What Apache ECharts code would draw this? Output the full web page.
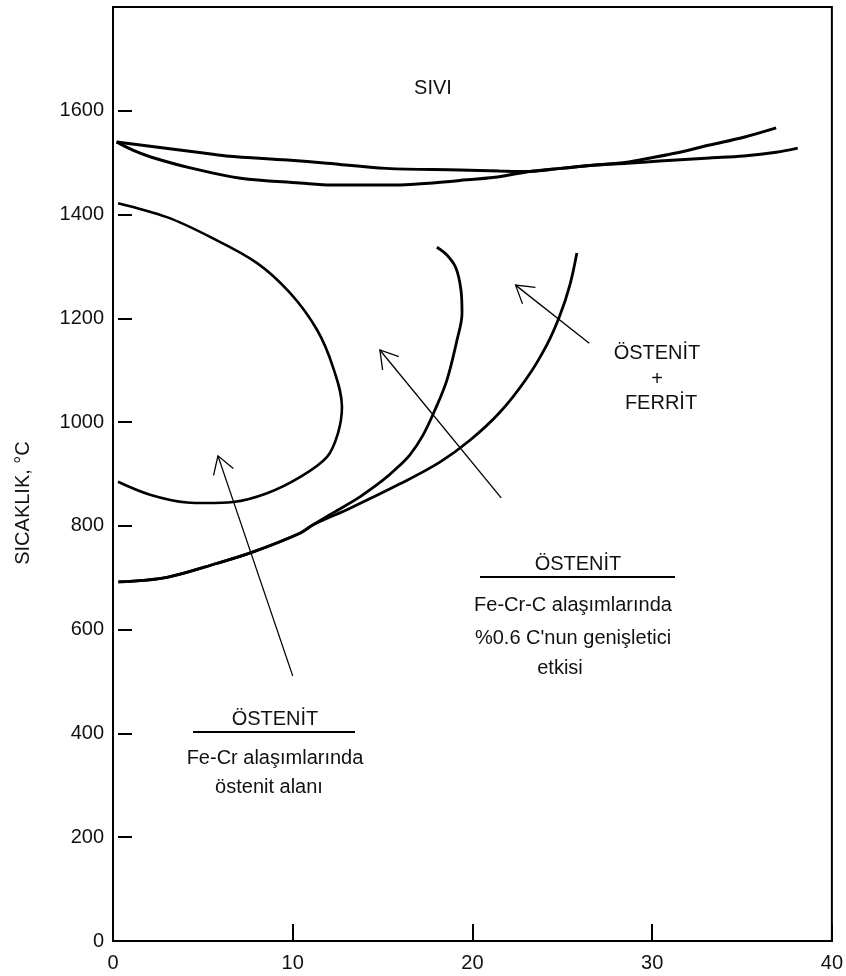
<!DOCTYPE html>
<html><head><meta charset="utf-8">
<script src="https://cdn.jsdelivr.net/npm/echarts/dist/echarts.min.js"></script>
<style>html,body{margin:0;padding:0;background:#fff}#c{width:846px;height:976px}</style>
</head><body><div id="c"></div>
<script>
// ---- data (x = % Cr, y = °C) ----
const xTickValues = [0, 10, 20, 30, 40];
const yTickLabels = ['0', '200', '400', '600', '800', '1000', '1200', '1400', '1600', ''];

// upper boundary lines (near the liquid region)
const upperLineA = [[0.2,1540],[4.7,1520],[6.3,1513],[9.7,1505],[11.9,1499],[15.2,1489],[19.3,1486],[21.5,1484],[23.0,1483],[24.9,1489],[26.7,1495],[28.6,1499],[30.4,1503],[33.2,1509],[35.1,1513],[36.9,1520],[38.1,1528]];
const upperLineB = [[0.2,1540],[1.1,1524],[2.1,1511],[4.3,1490],[7.1,1470],[10.4,1461],[12.2,1457],[16.0,1457],[17.8,1461],[19.7,1467],[21.5,1473],[23.0,1482],[24.9,1489],[26.7,1495],[28.6,1501],[29.9,1509],[31.4,1519],[33.2,1534],[35.1,1549],[36.9,1567]];

// Fe-Cr gamma loop
const loopFeCr = [[0.28,1422],[3.0,1395],[5.4,1357],[8.0,1307],[9.85,1249],[11.35,1178],[12.24,1106],[12.74,1029],[12.52,979],[11.91,933],[10.4,894],[8.57,863],[6.68,846],[5.2,844],[4.12,845],[2.06,860],[0.28,885]];

// Fe-Cr-C (0.6 % C) boundaries
const loopFeCrC_inner = [[0.3,692],[3.0,701],[5.8,728],[7.8,750],[10.4,786],[11.13,802],[12.24,825],[13.74,856],[15.02,888],[15.69,908],[16.52,937],[17.25,975],[17.91,1023],[18.58,1081],[19.14,1158],[19.42,1210],[19.36,1255],[19.08,1297],[18.58,1322],[18.02,1337]];
const loopFeCrC_outer = [[0.3,692],[3.0,701],[5.8,728],[7.8,750],[10.4,786],[11.13,802],[13.19,834],[15.97,881],[18.19,923],[19.86,965],[21.53,1019],[23.03,1085],[24.14,1149],[24.87,1206],[25.42,1264],[25.81,1326]];

// annotation arrows: tail -> head
const arrowTails = [[10.0,511],[21.6,854],[26.5,1152]];
const arrowHeads = [[5.84,935],[14.85,1139],[22.4,1264]];

// ---- chart ----
const FONT = "'Liberation Sans', Arial, sans-serif";
const chart = echarts.init(document.getElementById('c'), null, {renderer: 'canvas'});

const curveSeries = (data, w) => ({
  type: 'line', data: data, symbol: 'none', smooth: 0.35,
  lineStyle: {color: '#000', width: w}, silent: true, z: 3
});

const arrowData = arrowTails.map((t, i) => [t[0], t[1], arrowHeads[i][0], arrowHeads[i][1]]);

function txt(x, y, s) {
  return {type: 'text', x: x, y: y, z: 10,
    style: {text: s, font: '20px ' + FONT, fill: '#111', align: 'center', verticalAlign: 'middle'}};
}
function hline(x1, x2, y) {
  return {type: 'line', z: 10, shape: {x1: x1, y1: y, x2: x2, y2: y}, style: {stroke: '#000', lineWidth: 2}};
}

const option = {
  animation: false,
  backgroundColor: '#fff',
  grid: {left: 113, right: 14, top: 7, bottom: 35, show: true, borderColor: '#000', borderWidth: 2},
  xAxis: {
    type: 'value', min: 0, max: 40, interval: 10,
    axisLine: {show: true, lineStyle: {color: '#000', width: 2}},
    axisTick: {show: true, inside: true, length: 17, lineStyle: {color: '#000', width: 2}},
    axisLabel: {color: '#111', fontFamily: FONT, fontSize: 20, margin: 12,
      formatter: v => xTickValues.indexOf(v) >= 0 ? String(v) : ''},
    splitLine: {show: false}
  },
  yAxis: [{
    type: 'value', min: 0, max: 1800, interval: 200,
    axisLine: {show: true, lineStyle: {color: '#000', width: 2}},
    axisTick: {show: false},
    axisLabel: {color: '#111', fontFamily: FONT, fontSize: 20, margin: 9,
      formatter: (v) => yTickLabels[Math.round(v / 200)]},
    splitLine: {show: false}
  }, {
    type: 'value', min: 0, max: 1800, interval: 200, position: 'left', offset: -5,
    axisLine: {show: false},
    axisTick: {show: true, inside: true, length: 14, lineStyle: {color: '#000', width: 2}},
    axisLabel: {show: false},
    splitLine: {show: false}
  }],
  series: [
    curveSeries(upperLineA, 3),
    curveSeries(upperLineB, 3),
    curveSeries(loopFeCr, 2.6),
    curveSeries(loopFeCrC_inner, 2.8),
    curveSeries(loopFeCrC_outer, 2.8),
    {
      type: 'custom', data: arrowData, encode: {x: [0, 2], y: [1, 3]}, z: 4, silent: true,
      renderItem: function (params, api) {
        const p1 = api.coord([api.value(0), api.value(1)]);
        const p2 = api.coord([api.value(2), api.value(3)]);
        const ang = Math.atan2(p2[1] - p1[1], p2[0] - p1[0]);
        const L = 20, a = 0.55;
        const h1 = [p2[0] - L * Math.cos(ang - a), p2[1] - L * Math.sin(ang - a)];
        const h2 = [p2[0] - L * Math.cos(ang + a), p2[1] - L * Math.sin(ang + a)];
        return {type: 'group', children: [
          {type: 'line', shape: {x1: p1[0], y1: p1[1], x2: p2[0], y2: p2[1]}, style: {stroke: '#000', lineWidth: 1.3}},
          {type: 'polyline', shape: {points: [h1, p2, h2]}, style: {stroke: '#000', fill: null, lineWidth: 1.3}}
        ]};
      }
    }
  ],
  graphic: [
    {type: 'text', x: 23, y: 503, rotation: Math.PI / 2, z: 10,
      style: {text: 'SICAKLIK, °C', font: '20px ' + FONT, fill: '#111', align: 'center', verticalAlign: 'middle'}},
    txt(433, 88, 'SIVI'),
    txt(657, 353, 'ÖSTENİT'),
    txt(657, 379, '+'),
    txt(661, 403, 'FERRİT'),
    txt(578, 564, 'ÖSTENİT'),
    hline(480, 675, 577),
    txt(573, 605, 'Fe-Cr-C alaşımlarında'),
    txt(573, 638, '%0.6 C\'nun genişletici'),
    txt(560, 668, 'etkisi'),
    txt(275, 719, 'ÖSTENİT'),
    hline(193, 355, 732),
    txt(275, 758, 'Fe-Cr alaşımlarında'),
    txt(269, 787, 'östenit alanı')
  ]
};
chart.setOption(option);
</script>
</body></html>
